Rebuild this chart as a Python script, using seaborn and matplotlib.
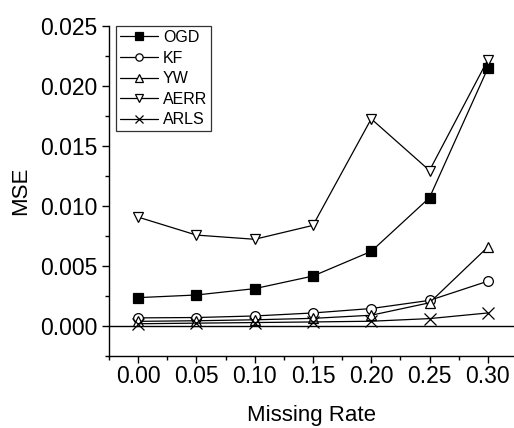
import numpy as np
import pandas as pd
import matplotlib
matplotlib.use("Agg")
import matplotlib.pyplot as plt
import seaborn as sns
from matplotlib.ticker import MultipleLocator

rates = [0.00, 0.05, 0.10, 0.15, 0.20, 0.25, 0.30]
ogd = [0.00233, 0.00255, 0.00308, 0.00413, 0.00619, 0.01067, 0.02147]
kf = [0.00064, 0.00067, 0.00080, 0.00105, 0.00142, 0.00210, 0.00370]
yw = [0.00035, 0.00040, 0.00048, 0.00060, 0.00086, 0.00190, 0.00655]
aerr = [0.00905, 0.00755, 0.00720, 0.00836, 0.01725, 0.01294, 0.02217]
arls = [0.00015, 0.00020, 0.00025, 0.00030, 0.00036, 0.00058, 0.00105]

names = ["OGD", "KF", "YW", "AERR", "ARLS"]
series = [ogd, kf, yw, aerr, arls]
markers = ["s", "o", "^", "v", "x"]
fills = ["black", "white", "white", "white", "black"]

sns.set_theme(style="ticks")
plt.rcParams["font.family"] = ["Liberation Sans", "DejaVu Sans"]
plt.rcParams["text.color"] = "black"

fig = plt.figure(figsize=(5.14, 4.28), dpi=100)
ax = fig.add_axes([109 / 514, 1 - 355.5 / 428, 1 - 109 / 514, (355.5 - 26) / 428])

for name, vals, m, fc in zip(names, series, markers, fills):
    df = pd.DataFrame({"rate": rates, "mse": vals})
    sns.lineplot(data=df, x="rate", y="mse", ax=ax, color="black", lw=0.9,
                 marker=m, markersize=7 if m != "x" else 8,
                 markerfacecolor=fc, markeredgecolor="black",
                 markeredgewidth=0.9, label=name)

ax.axhline(0, color="black", lw=1.0, zorder=1)
ax.set_xlim(-0.025, 0.3225)
ax.set_ylim(-0.0025, 0.025)
ax.xaxis.set_major_locator(MultipleLocator(0.05))
ax.xaxis.set_minor_locator(MultipleLocator(0.025))
ax.yaxis.set_major_locator(MultipleLocator(0.005))
ax.yaxis.set_minor_locator(MultipleLocator(0.0025))
ax.xaxis.set_major_formatter(matplotlib.ticker.FormatStrFormatter("%.2f"))
ax.yaxis.set_major_formatter(matplotlib.ticker.FormatStrFormatter("%.3f"))
ax.tick_params(which="major", length=5, width=1.0, labelsize=16.5, color="black",
               labelcolor="black", direction="out")
ax.tick_params(axis="x", which="major", pad=2)
ax.tick_params(which="minor", length=3, width=1.0, color="black", direction="out")
ax.set_yticks([t for t in np.arange(0, 0.0251, 0.005)])

for s in ["top", "right"]:
    ax.spines[s].set_visible(False)
for s in ["left", "bottom"]:
    ax.spines[s].set_color("black")
    ax.spines[s].set_linewidth(1.0)

ax.set_xlabel("Missing Rate", fontsize=16, color="black", labelpad=12)
ax.set_ylabel("MSE", fontsize=16, color="black", labelpad=6)

leg = ax.legend(loc="upper left", bbox_to_anchor=(0.017, 1.0), borderaxespad=0,
                fontsize=11.5, frameon=True, fancybox=False, edgecolor="black",
                handlelength=2.4, handletextpad=0.3, labelspacing=0.35,
                borderpad=0.25, markerscale=0.75, labelcolor="black")
leg.get_frame().set_linewidth(0.9)

fig.savefig("out.png", dpi=100)
